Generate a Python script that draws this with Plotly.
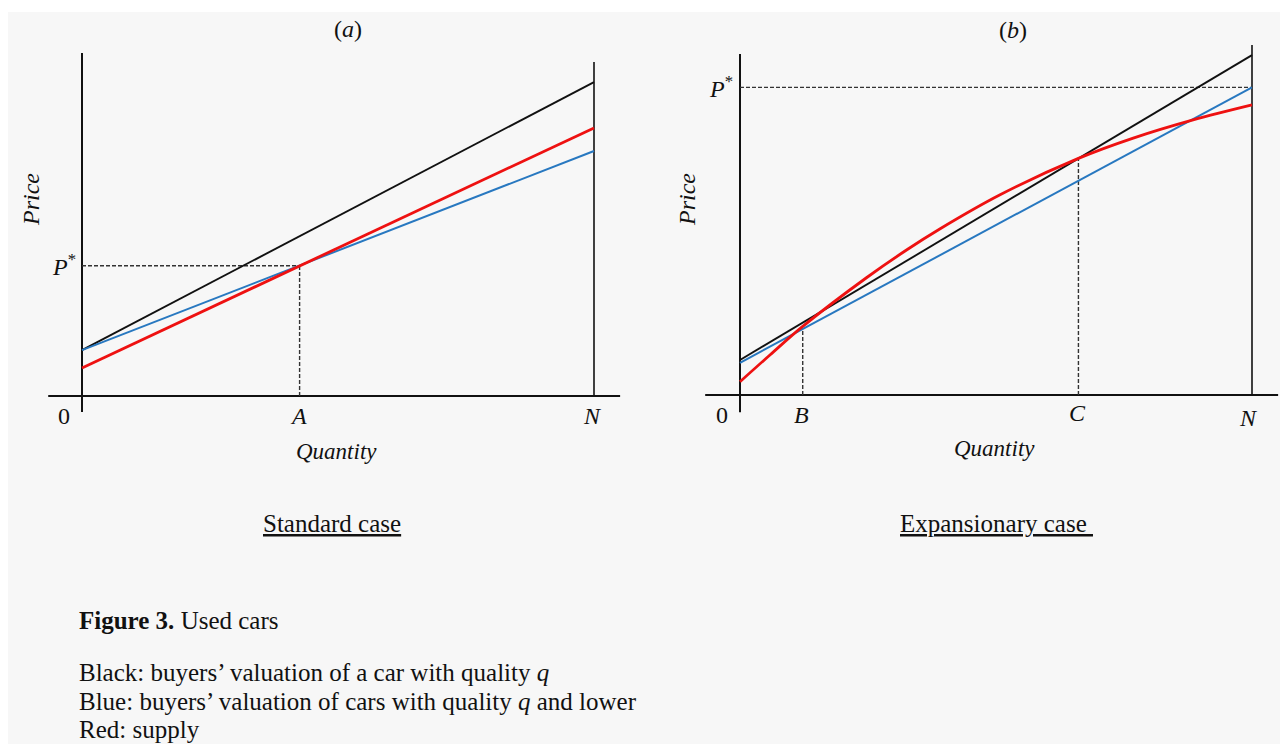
import plotly.graph_objects as go

W, H = 1280, 744

# ---------------- data ----------------
# Panel (a): standard case (quantity 0..N = 0..100)
a_x = [0, 100]
a_black = [13.1, 89.7]
a_blue = [13.1, 70.0]
a_red = [8.0, 76.6]
a_A = 42.5
a_Pstar = 37.2

# Panel (b): expansionary case
b_x = [0, 100]
b_black = [10.0, 97.1]
b_blue = [9.2, 87.9]
b_red_x = [0, 5.9, 12.25, 24.7, 32.6, 39.1, 50.8, 66.1, 76.8, 88.5, 100]
b_red_y = [3.8, 11.5, 19.6, 33.5, 41.5, 47.5, 57.2, 67.6, 73.4, 78.6, 82.9]
b_B, b_B_top = 12.25, 19.0
b_C, b_C_top = 66.1, 67.6
b_Pstar = 87.9

N = 100

BLACK = "#111111"
BLUE = "#2878c0"
RED = "#ee1111"
DASH = "#333333"
FONT = "Liberation Serif"

# pixel mapping helpers for axis ranges (5.12 px per quantity unit, 3.5 px per price unit)
def xr(px0, px1, origin):
    return [(px0 - origin) / 5.12, (px1 - origin) / 5.12]

def yr(origin):
    return [(origin - H) / 3.5, origin / 3.5]

fig = go.Figure()

def line(x, y, color, width, ax, dash=None, shape="linear"):
    fig.add_trace(go.Scatter(
        x=x, y=y, mode="lines", xaxis=ax[0], yaxis=ax[1],
        line=dict(color=color, width=width, dash=dash, shape=shape, smoothing=1.0),
        hoverinfo="skip", showlegend=False))

A_AX = ("x", "y")
B_AX = ("x2", "y2")
DASHSTYLE = "4px,2px"

# ---- panel (a) ----
line([-6.6, 105.1], [0, 0], BLACK, 2, A_AX)            # x axis
line([0, 0], [-4.6, 98.0], BLACK, 2, A_AX)             # y axis
line([N, N], [0, 95.4], BLACK, 1.6, A_AX)              # N line
line([0, a_A], [a_Pstar, a_Pstar], DASH, 1.4, A_AX, dash=DASHSTYLE)
line([a_A, a_A], [0, a_Pstar], DASH, 1.4, A_AX, dash=DASHSTYLE)
line(a_x, a_black, BLACK, 1.9, A_AX)
line(a_x, a_blue, BLUE, 2.0, A_AX)
line(a_x, a_red, RED, 2.8, A_AX)

# ---- panel (b) ----
line([-6.8, 105.1], [0, 0], BLACK, 2, B_AX)
line([0, 0], [-4.9, 97.4], BLACK, 2, B_AX)
line([N, N], [0, 100.0], BLACK, 1.6, B_AX)
line([0, N], [b_Pstar, b_Pstar], DASH, 1.4, B_AX, dash=DASHSTYLE)
line([b_B, b_B], [0, b_B_top], DASH, 1.4, B_AX, dash=DASHSTYLE)
line([b_C, b_C], [0, b_C_top], DASH, 1.4, B_AX, dash=DASHSTYLE)
line(b_x, b_black, BLACK, 1.9, B_AX)
line(b_x, b_blue, BLUE, 2.0, B_AX)
line(b_red_x, b_red_y, RED, 2.8, B_AX, shape="spline")

# ---------------- text ----------------
def px_ann(text, x, y, size=23, xanchor="center", yanchor="middle", angle=0, color="#111111"):
    fig.add_annotation(text=text, x=x / W, y=1 - y / H, xref="paper", yref="paper",
                       showarrow=False, xanchor=xanchor, yanchor=yanchor, textangle=angle,
                       font=dict(family=FONT, size=size, color=color))

# panel labels
px_ann("(<i>a</i>)", 348, 29, size=24)
px_ann("(<i>b</i>)", 1013, 30, size=24)
# axis titles
px_ann("<i>Price</i>", 31, 200, angle=-90, size=24)
px_ann("<i>Price</i>", 687, 200, angle=-90, size=24)
px_ann("<i>Quantity</i>", 336, 451)
px_ann("<i>Quantity</i>", 994, 448)
# P*
px_ann("<i>P</i><sup>*</sup>", 78, 265, xanchor="right", size=24)
px_ann("<i>P</i><sup>*</sup>", 735, 87, xanchor="right", size=24)
# tick-like labels
px_ann("0", 64, 416, size=24)
px_ann("<i>A</i>", 298, 416, size=24)
px_ann("<i>N</i>", 592, 416, size=24)
px_ann("0", 722, 415, size=24)
px_ann("<i>B</i>", 801, 415, size=24)
px_ann("<i>C</i>", 1077, 413, size=24)
px_ann("<i>N</i>", 1248, 418, size=24)

# case captions
px_ann("<u>Standard case</u>", 332, 523, size=25)
px_ann("<u>Expansionary case </u>", 996, 523, size=25)

# figure caption and legend text
px_ann("<b>Figure 3.</b> Used cars", 77, 620, size=25, xanchor="left")
px_ann("Black: buyers\u2019 valuation of a car with quality <i>q</i>", 77, 672, size=25, xanchor="left")
px_ann("Blue: buyers\u2019 valuation of cars with quality <i>q</i> and lower", 77, 701, size=25, xanchor="left")
px_ann("Red: supply", 77, 729, size=25, xanchor="left")

# background panel
fig.add_shape(type="rect", xref="paper", yref="paper", x0=8 / W, x1=1, y0=0, y1=1 - 12 / H,
              fillcolor="#f7f7f7", line=dict(width=0), layer="below")

axis_common = dict(visible=False, showgrid=False, zeroline=False, fixedrange=True)
fig.update_layout(
    width=W, height=H,
    margin=dict(l=0, r=0, t=0, b=0),
    paper_bgcolor="white",
    plot_bgcolor="rgba(0,0,0,0)",
    showlegend=False,
    xaxis=dict(domain=[0, 0.5], range=xr(0, 640, 82), **axis_common),
    yaxis=dict(domain=[0, 1], range=yr(396), **axis_common),
    xaxis2=dict(domain=[0.5, 1], range=xr(640, 1280, 740), anchor="y2", **axis_common),
    yaxis2=dict(domain=[0, 1], range=yr(395), anchor="x2", **axis_common),
)

fig.write_html("out.html", config={"displayModeBar": False})
